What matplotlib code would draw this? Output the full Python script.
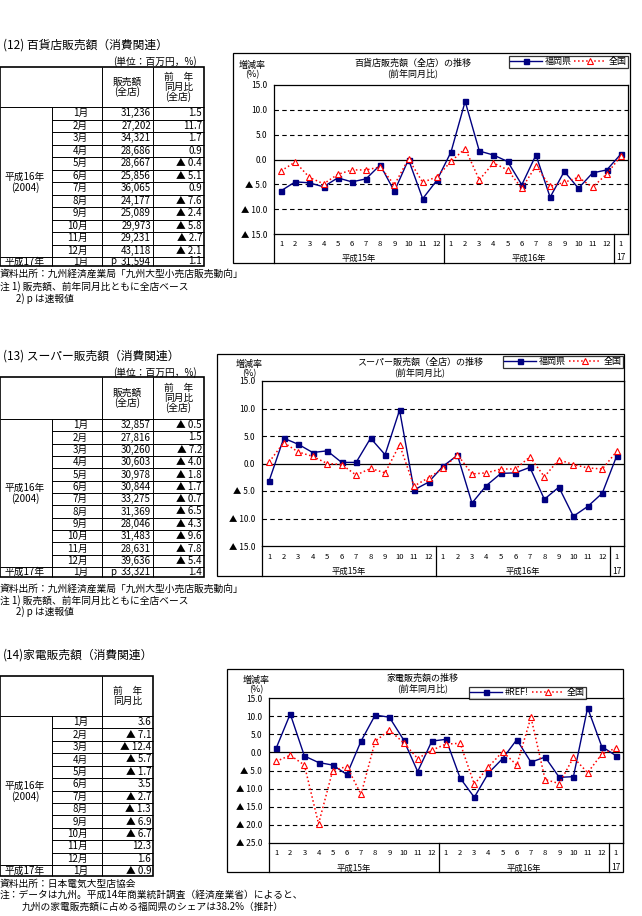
import numpy as np
import matplotlib.pyplot as plt
from matplotlib.patches import Rectangle
from matplotlib.transforms import blended_transform_factory

plt.rcParams['font.family'] = ['Noto Sans CJK JP', 'DejaVu Sans']

W, H = 642, 916

# ---- data ----
months = ['1月', '2月', '3月', '4月', '5月', '6月', '7月', '8月', '9月', '10月', '11月', '12月', '1月']
cat_months = [str(i) for i in range(1, 13)] * 2 + ['1']
cat_years = ['平成15年', '平成16年', '17']

# (12) department stores
dept_sales = [31236, 27202, 34321, 28686, 28667, 25856, 36065, 24177, 25089, 29973, 29231, 43118, 31594]
dept_yoy = [1.5, 11.7, 1.7, 0.9, -0.4, -5.1, 0.9, -7.6, -2.4, -5.8, -2.7, -2.1, 1.1]
dept_fk_h15 = [-6.3, -4.5, -4.7, -5.5, -3.7, -4.5, -3.9, -1.1, -6.4, 0.0, -7.9, -4.2]
dept_zk = [-2.3, -0.5, -3.6, -4.9, -3.0, -2.1, -2.1, -1.5, -5.1, 0.1, -4.6, -3.5,
           -0.4, 2.2, -4.1, -0.7, -2.1, -5.8, -1.3, -5.4, -4.6, -3.6, -5.6, -2.9, 0.7]

# (13) supermarkets
super_sales = [32857, 27816, 30260, 30603, 30978, 30844, 33275, 31369, 28046, 31483, 28631, 39636, 33321]
super_yoy = [-0.5, 1.5, -7.2, -4.0, -1.8, -1.7, -0.7, -6.5, -4.3, -9.6, -7.8, -5.4, 1.4]
super_fk_h15 = [-3.1, 4.6, 3.5, 2.0, 2.3, 0.2, 0.2, 4.6, 1.6, 9.7, -4.8, -3.4]
super_zk = [0.3, 3.8, 2.1, 1.3, 0.0, -0.2, -2.1, -0.9, -1.7, 3.4, -4.1, -2.6,
            -0.9, 1.6, -1.9, -1.7, -1.0, -1.0, 1.2, -2.4, 0.7, -0.2, -0.8, -1.0, 2.2]

# (14) electric appliances
elec_yoy = [3.6, -7.1, -12.4, -5.7, -1.7, 3.5, -2.7, -1.3, -6.9, -6.7, 12.3, 1.6, -0.9]
elec_fk_h15 = [1.1, 10.6, -1.0, -2.8, -3.5, -6.1, 3.1, 10.3, 9.7, 3.5, -5.3, 3.1]
elec_zk = [-2.5, -0.8, -3.5, -19.7, -5.0, -3.9, -11.6, 3.1, 6.1, 2.7, -1.7, 0.6,
           2.3, 2.5, -8.8, -4.0, 0.2, -3.5, 9.7, -7.5, -8.6, -1.4, -5.6, -0.5, 1.2]

BLUE = '#000080'
RED = '#ff0000'

fig = plt.figure(figsize=(W / 100, H / 100), dpi=100)
bg = fig.add_axes([0, 0, 1, 1])
bg.set_xlim(0, W)
bg.set_ylim(H, 0)
bg.axis('off')


def fmt_yoy(v):
    return '▲ %.1f' % abs(v) if v < 0 else '%.1f' % v


def hline(x0, x1, y, lw=0.7):
    bg.plot([x0, x1], [y, y], color='black', lw=lw, solid_capstyle='butt')


def vline(x, y0, y1, lw=0.7):
    bg.plot([x, x], [y0, y1], color='black', lw=lw, solid_capstyle='butt')


def draw_table(top, head_bot, rows_bot, last_bot, cols, headers, columns):
    x0, x1 = cols[0], cols[-1]
    rh = (rows_bot - head_bot) / 12
    bg.add_patch(Rectangle((x0, top), x1 - x0, last_bot - top, fill=False, ec='black', lw=1.2))
    hline(x0, x1, head_bot)
    hline(x0, x1, rows_bot)
    for k in range(1, 12):
        hline(cols[1], x1, head_bot + k * rh)
    vline(cols[1], head_bot, last_bot)
    for c in cols[2:-1]:
        vline(c, top, last_bot)
    # header texts
    for ci, lines in headers:
        cx = (cols[ci] + cols[ci + 1]) / 2
        n = len(lines)
        for j, t in enumerate(lines):
            y = (top + head_bot) / 2 + (j - (n - 1) / 2) * 10
            bg.text(cx, y, t, ha='center', va='center', fontsize=7)
    # row labels
    ymid = (head_bot + rows_bot) / 2
    bg.text(25, ymid - 5, '平成16年', ha='center', va='center', fontsize=7)
    bg.text(25, ymid + 6, '(2004)', ha='center', va='center', fontsize=7)
    bg.text(25, (rows_bot + last_bot) / 2, '平成17年', ha='center', va='center', fontsize=7)
    centers = [head_bot + (k + 0.5) * rh for k in range(12)] + [(rows_bot + last_bot) / 2]
    for k, yc in enumerate(centers):
        bg.text(cols[2] - 14, yc, months[k], ha='right', va='center', fontsize=7)
        for ci, vals in columns:
            bg.text(cols[ci + 1] - 2, yc, vals[k], ha='right', va='center', fontsize=7)


def draw_chart(box, plot, ylim, title, fk, zk, fk_label, legend_box, ylab_x, title_x, title_y, cat_y, yr_y):
    bx0, by0, bx1, by1 = box
    bg.add_patch(Rectangle((bx0, by0), bx1 - bx0, by1 - by0, fill=False, ec='black', lw=0.9))
    px0, py0, px1, py1 = plot
    ax = fig.add_axes([px0 / W, 1 - py1 / H, (px1 - px0) / W, (py1 - py0) / H])
    ax.set_facecolor('white')
    x = np.arange(len(fk)) + 0.5
    ax.set_xlim(0, 25)
    ax.set_ylim(*ylim)
    ticks = np.arange(ylim[0], ylim[1] + 1, 5)
    for t in ticks[1:-1]:
        if t == 0:
            ax.axhline(0, color='black', lw=0.9)
        else:
            ax.axhline(t, color='black', lw=0.8, ls=(0, (4, 3)))
    ax.plot(x, fk, color=BLUE, lw=1.0, marker='s', ms=3.6, mfc=BLUE, mec=BLUE, label=fk_label)
    ax.plot(x, zk, color=RED, lw=1.1, ls=':', marker='^', ms=4.5, mfc='white', mec=RED,
            mew=0.8, label='全国')
    ax.set_xticks([])
    ax.set_yticks(ticks)
    ax.set_yticklabels([fmt_yoy(t) for t in ticks], fontsize=6)
    ax.tick_params(axis='y', length=0, pad=5)
    for s in ax.spines.values():
        s.set_linewidth(0.9)

    # category axis area below the plot
    tr = blended_transform_factory(ax.transData, bg.transData)
    for xv in [0, 12, 24]:
        ax.plot([xv, xv], [py1, by1], color='black', lw=0.9, transform=tr, clip_on=False)
    for i, lab in enumerate(cat_months):
        ax.text(i + 0.5, cat_y, lab, ha='center', va='center', fontsize=5.5, transform=tr)
    for xc, lab in zip([6, 18, 24.5], cat_years):
        ax.text(xc, yr_y, lab, ha='center', va='center', fontsize=6, transform=tr)

    # texts
    bg.text(ylab_x, title_y[0] + 2, '増減率', ha='center', va='center', fontsize=6.5)
    bg.text(ylab_x, title_y[1] + 2, '(%)', ha='center', va='center', fontsize=6.5)
    bg.text(title_x, title_y[0], title, ha='center', va='center', fontsize=6.5)
    bg.text(title_x, title_y[1], '(前年同月比)', ha='center', va='center', fontsize=6.5)

    lx0, ly0, lx1, ly1 = legend_box
    leg = ax.legend(loc='upper left', bbox_to_anchor=(lx0 / W, 1 - ly1 / H, (lx1 - lx0) / W, (ly1 - ly0) / H),
                    bbox_transform=fig.transFigure, ncol=2, mode='expand', frameon=True, fancybox=False,
                    edgecolor='black', fontsize=6.5, borderpad=0.15, handlelength=3.5, handletextpad=0.3,
                    borderaxespad=0, columnspacing=0.6)
    leg.get_frame().set_linewidth(0.9)
    return ax


# ---- section (12) ----
bg.text(3, 45, '(12) 百貨店販売額（消費関連）', ha='left', va='center', fontsize=8.5)
bg.text(197, 62, '(単位：百万円，%)', ha='right', va='center', fontsize=7)
dept_sales_txt = ['{:,}'.format(v) for v in dept_sales]
draw_table(67, 107, 257, 266, [0, 52, 102, 153, 204],
           [(2, ['販売額', '(全店)']), (3, ['前　年', '同月比', '(全店)'])],
           [(2, dept_sales_txt), (3, [fmt_yoy(v) for v in dept_yoy])])
bg.text(113, 261.5, 'p', ha='center', va='center', fontsize=7)
bg.text(0, 274, '資料出所：九州経済産業局「九州大型小売店販売動向」', ha='left', va='center', fontsize=7)
bg.text(0, 287, '注 1) 販売額、前年同月比ともに全店ベース', ha='left', va='center', fontsize=7)
bg.text(16, 299, '2) p は速報値', ha='left', va='center', fontsize=7)

draw_chart((233, 53, 630, 263), (274, 85, 628, 234), (-15, 15), '百貨店販売額（全店）の推移',
           dept_fk_h15 + dept_yoy, dept_zk, '福岡県', (509, 56, 628, 69),
           252, 413, (63, 73), 244, 258)

# ---- section (13) ----
bg.text(3, 356, '(13) スーパー販売額（消費関連）', ha='left', va='center', fontsize=8.5)
bg.text(197, 373, '(単位：百万円，%)', ha='right', va='center', fontsize=7)
super_sales_txt = ['{:,}'.format(v) for v in super_sales]
draw_table(377, 419, 567, 577, [0, 52, 102, 153, 204],
           [(2, ['販売額', '(全店)']), (3, ['前　年', '同月比', '(全店)'])],
           [(2, super_sales_txt), (3, [fmt_yoy(v) for v in super_yoy])])
bg.text(113, 572, 'p', ha='center', va='center', fontsize=7)
bg.text(0, 589, '資料出所：九州経済産業局「九州大型小売店販売動向」', ha='left', va='center', fontsize=7)
bg.text(0, 601, '注 1) 販売額、前年同月比ともに全店ベース', ha='left', va='center', fontsize=7)
bg.text(16, 612, '2) p は速報値', ha='left', va='center', fontsize=7)

draw_chart((217, 354, 624, 576), (262, 381, 624, 546), (-15, 15), 'スーパー販売額（全店）の推移',
           super_fk_h15 + super_yoy, super_zk, '福岡県', (503, 356, 623, 367),
           249, 420, (362, 372), 557, 571)

# ---- section (14) ----
bg.text(3, 655, '(14)家電販売額（消費関連）', ha='left', va='center', fontsize=8.5)
draw_table(676, 716, 865, 876, [0, 52, 102, 153],
           [(2, ['前　年', '同月比'])],
           [(2, [fmt_yoy(v) for v in elec_yoy])])
bg.text(0, 884, '資料出所：日本電気大型店協会', ha='left', va='center', fontsize=7)
bg.text(0, 895, '注：データは九州。平成14年商業統計調査（経済産業省）によると、', ha='left', va='center', fontsize=7)
bg.text(22, 907, '九州の家電販売額に占める福岡県のシェアは38.2%（推計）', ha='left', va='center', fontsize=7)

draw_chart((227, 669, 623, 872), (269, 698, 623, 843), (-25, 15), '家電販売額の推移',
           elec_fk_h15 + elec_yoy, elec_zk, '#REF!', (469, 687, 586, 698),
           256, 423, (678, 688), 853, 868)

fig.savefig('out.png', dpi=100)
